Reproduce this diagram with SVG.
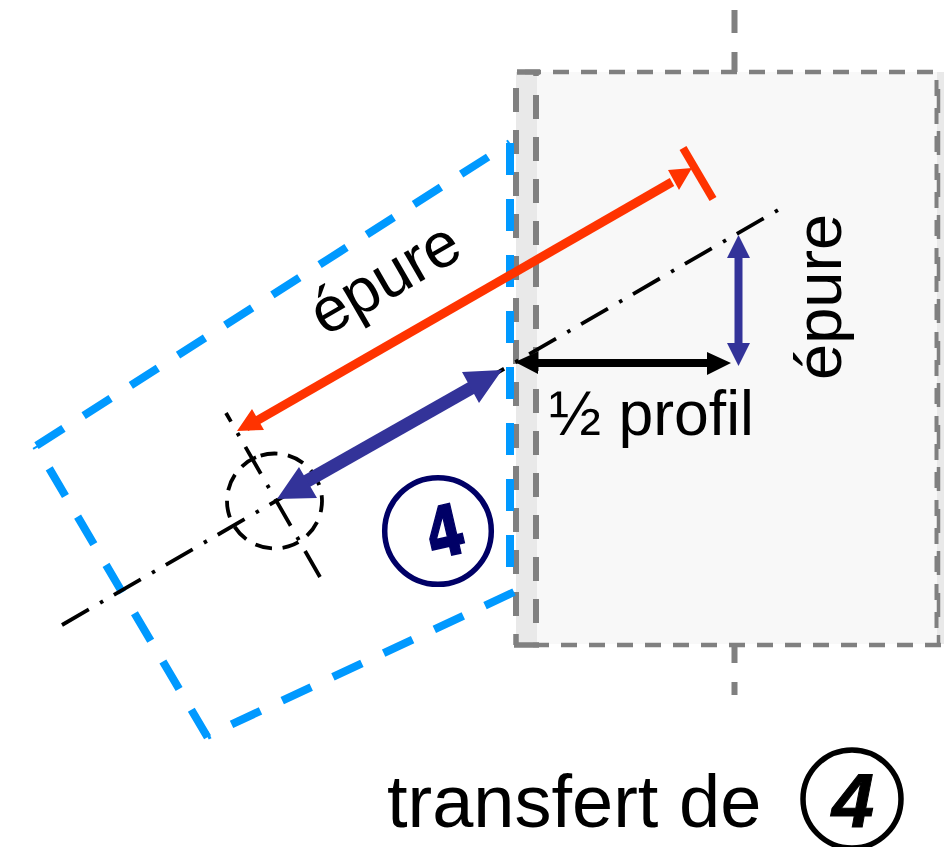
<svg xmlns="http://www.w3.org/2000/svg" width="944" height="847" viewBox="0 0 944 847">
<style>
.t{font-family:"Liberation Sans",Arial,sans-serif;fill:#000}
.g{fill:none;stroke:#808080}
.b{fill:none;stroke:#0099ff;stroke-width:8;stroke-dasharray:32 24;stroke-dashoffset:30}
.c{fill:none;stroke:#000;stroke-width:3.8}
.cl{stroke-dasharray:31 13 3.5 12.5}
</style>
<rect width="944" height="847" fill="#fff"/>
<g id="profile">
<rect x="516" y="72" width="428" height="572" fill="#f8f8f8"/>
<rect x="516" y="72" width="21" height="572" fill="#e9e9e9"/>
<rect x="937" y="72" width="7" height="572" fill="#e9e9e9"/>
<path class="g" stroke-width="4.5" stroke-dasharray="16 12" d="M525 72H944M533 645H944"/>
<path class="g" stroke-width="6" stroke-dasharray="24 18" d="M516 88V620M536 95V625"/>
<path class="g" stroke-width="5.5" d="M517 72H540M536 72V76M514 645H539M516 634V645"/>
<path class="g" stroke-width="4" stroke-dasharray="16 12" d="M936.5 80V640"/>
<path class="g" stroke-width="3.5" stroke-dasharray="24 18" d="M938.5 89V645"/>
<path class="g" stroke-width="6" d="M734.5 10V33M734.5 52V72M734.5 645V663M734.5 682V695"/>
</g>
<g id="outline">
<path class="b" style="stroke-dashoffset:0" d="M510 143V567"/>
<path class="b" d="M510 143L36 446"/>
<path class="b" d="M36 446L208 738"/>
<path class="b" style="stroke-dashoffset:0" d="M514 592L207 736"/>
</g>
<g id="connectors">
<path class="c cl" d="M62 625L778 210"/>
<path class="c cl" style="stroke-dashoffset:21" d="M226 413L320 577"/>
<circle class="c" cx="274.5" cy="501" r="47.5" stroke-dasharray="17 10.6" transform="rotate(-107 274.5 501)"/>
<path d="M246 427L672 182" stroke="#ff3300" stroke-width="9" fill="none"/>
<path d="M237 431L252 409L264 430ZM692 168L668 170L679 190Z" fill="#ff3300"/>
<path d="M683 148L713 199" stroke="#ff3300" stroke-width="8" fill="none"/>
<path d="M300 485L480 383" stroke="#333399" stroke-width="13" fill="none"/>
<path d="M277 499L299 467L317 498ZM502 370L462 372L479 403Z" fill="#333399"/>
<path d="M738.5 250V350" stroke="#333399" stroke-width="8" fill="none"/>
<path d="M738.5 235L750 258H727ZM738.5 366L750 343H727Z" fill="#333399"/>
<path d="M530 363H720" stroke="#000" stroke-width="8" fill="none"/>
<path d="M515 362L538 351.500V374ZM731 363L707 352V375Z" fill="#000"/>
</g>
<g id="label-epure-1"><text class="t" font-size="63.500" transform="translate(325 337) rotate(-30)">épure</text></g>
<g id="label-epure-2"><text class="t" font-size="65" transform="translate(841 380) rotate(-90)">épure</text></g>
<g id="label-profil"><text class="t" font-size="62.500" x="549" y="435">½ profil</text></g>
<g id="badge-4"><circle cx="438" cy="531" r="53.300" fill="#fff" stroke="#000066" stroke-width="5.500"/>
<text font-family="'DejaVu Sans',sans-serif" font-weight="bold" font-size="70" fill="#000066" stroke="#000066" stroke-width="1.500" text-anchor="middle" transform="translate(445 531) rotate(-13) scale(.78 1)" y="25">4</text></g>
<g id="caption"><text class="t" font-size="74" x="387" y="827">transfert de</text>
<circle cx="852" cy="799" r="49" fill="none" stroke="#000" stroke-width="5.500"/>
<text font-family="'Liberation Sans',sans-serif" font-weight="bold" font-style="italic" font-size="76" fill="#000" stroke="#000" stroke-width="1" text-anchor="middle" x="853" y="827">4</text></g>
</svg>
